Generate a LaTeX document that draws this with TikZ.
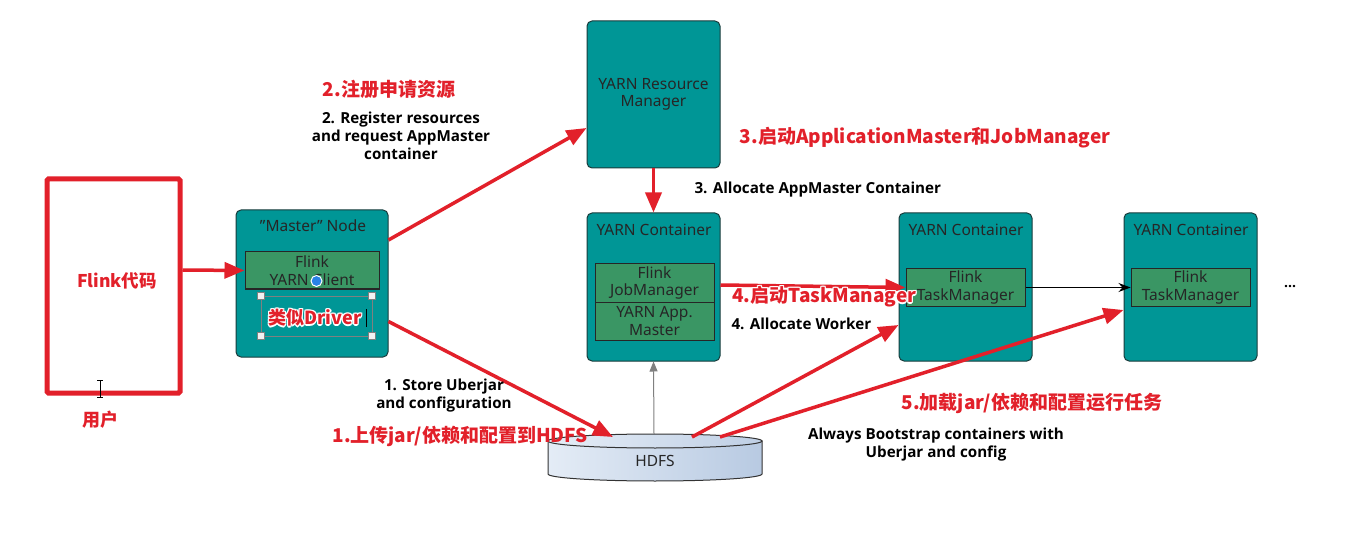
\documentclass[tikz,border=0pt]{standalone}
\usepackage{fontspec}
\setmainfont{Noto Sans}
\newfontfamily\cjk{Noto Sans CJK SC}
\newfontfamily\lblfont{Open Sans}
\usetikzlibrary{arrows.meta,calc}
\definecolor{myred}{RGB}{226,32,42}
\definecolor{tealfill}{RGB}{0,150,150}
\definecolor{tealborder}{RGB}{25,60,60}
\definecolor{greenfill}{RGB}{58,150,100}
\definecolor{hdfsA}{RGB}{228,236,246}
\definecolor{hdfsB}{RGB}{184,202,226}
\definecolor{dotblue}{RGB}{40,130,230}
\tikzset{
  ybox/.style={draw=tealborder, fill=tealfill, rounded corners=5pt, line width=1pt, inner sep=0pt},
  ibox/.style={draw=black!85, fill=greenfill, line width=1pt, inner sep=0pt, align=center,
    font=\fontsize{15.5}{17.5}\selectfont, text=black!85},
  ttl/.style={font=\fontsize{15.5}{17.5}\selectfont, text=black!85, align=center},
  redarrow/.style={draw=myred, line width=3.5pt, -{Triangle[length=20pt,width=16pt]}},
  lbl/.style={font=\lblfont\bfseries\fontsize{15.2}{18}\selectfont, align=center, text=black},
  redlbl/.style={text=myred, font=\cjk\bfseries\fontsize{19}{22}\selectfont, inner sep=0pt},
}
\newcommand{\redtext}[4][]{%
  \foreach \dx/\dy in {1.3/0,-1.3/0,0/1.3,0/-1.3,1/1,-1/1,1/-1,-1/-1}{%
    \node[redlbl,#1,text=white] at ([xshift=\dx pt,yshift=\dy pt]#3) {#4};}
  \node[redlbl,#1] (#2) at (#3) {#4};}
\begin{document}
\begin{tikzpicture}[x=1pt,y=-1pt]
\useasboundingbox (0,0) rectangle (1366,548);
\fill[white] (0,0) rectangle (1366,548);

% user code box
\node[draw=myred, line width=5pt, rounded corners=1.5pt, minimum width=133pt, minimum height=214pt, inner sep=0pt] (flink) at (113.5,286) {};
\node[redlbl, font=\cjk\bfseries\fontsize{17.5}{20}\selectfont] (flinktxt) at (117,281) {Flink代码};
\node[redlbl, font=\cjk\bfseries\fontsize{18}{20}\selectfont] (usertxt) at (100,420) {用户};
% I-beam cursor
\draw[black, line width=0.8pt] (100,380) -- (100,397) (97,380) -- (103,380) (97,397) -- (103,397);

% Master node
\node[ybox, minimum width=152pt, minimum height=147pt] (master) at (312,283.5) {};
\node[ttl] (mastert) at (313,226) {\symbol{34}Master\symbol{34} Node};
\node[ibox, minimum width=134pt, minimum height=37pt] (cl) at (312,270.5) {Flink\\YARN Client};
\node[circle, fill=dotblue, draw=white, line width=1pt, minimum size=11pt, inner sep=0pt] (dot) at (316.5,281) {};
% selection box
\draw[gray, line width=0.8pt] (261,296) rectangle (372,336);
\foreach \hx/\hy in {261/296,372/296,261/336,372/336}{
  \draw[gray, fill=white!90!gray, line width=0.6pt] (\hx-3.5,\hy-3.5) rectangle (\hx+3.5,\hy+3.5);}
\redtext[font=\cjk\bfseries\fontsize{18}{20}\selectfont]{drv}{315,318}{类似Driver}
\draw[black, line width=1.2pt] (366.5,309) -- (366.5,327);

% Resource manager
\node[ybox, minimum width=133pt, minimum height=147pt, ttl] (rm) at (653.5,94.5) {YARN Resource\\Manager};

% Container 1
\node[ybox, minimum width=133pt, minimum height=148pt] (c1) at (653.5,287) {};
\node[ttl] (c1t) at (654,230) {YARN Container};
\node[ibox, minimum width=119pt, minimum height=38pt] (jm) at (654.5,283) {Flink\\JobManager};
\node[ibox, minimum width=119pt, minimum height=38pt] (am) at (654.5,321) {YARN App.\\Master};

% Container 2
\node[ybox, minimum width=133pt, minimum height=148pt] (c2) at (965.5,287) {};
\node[ttl] (c2t) at (966,230) {YARN Container};
\node[ibox, minimum width=119pt, minimum height=38pt] (tm2) at (965.5,287.5) {Flink\\TaskManager};

% Container 3
\node[ybox, minimum width=133pt, minimum height=148pt] (c3) at (1190.5,287) {};
\node[ttl] (c3t) at (1191,230) {YARN Container};
\node[ibox, minimum width=119pt, minimum height=38pt] (tm3) at (1190.5,287.5) {Flink\\TaskManager};

\node[font=\lblfont\bfseries\fontsize{14}{16}\selectfont] (dots) at (1290,287) {...};

% HDFS cylinder
\path[draw=black!80, line width=1pt, left color=hdfsA, right color=hdfsB]
  (548,441) -- (548,474) arc[start angle=180, end angle=360, x radius=107pt, y radius=7pt] -- (762,441) -- cycle;
\path[draw=black!80, line width=1pt, left color=hdfsA!95!white, right color=hdfsB!90!white]
  (655,441) ellipse[x radius=107pt, y radius=7pt];
\node[font=\fontsize{15.5}{17}\selectfont, text=black!85] (hdfs) at (655,461) {HDFS};
\coordinate (h0) at (654,434);
\coordinate (h1) at (613,437);
\coordinate (h2) at (692,437);
\coordinate (h3) at (720,437);

% connectors
\draw[gray, line width=1pt, -{Triangle[length=10pt,width=8pt]}] (h0) -- (c1.south);
\draw[redarrow] ([yshift=16pt]flink.east) -- (cl.west);
\draw[redarrow] ([yshift=43.5pt]master.east) -- ([yshift=-33.5pt]rm.west);
\draw[redarrow] (rm.south) -- (c1.north);
\draw[redarrow] ([yshift=-38pt]master.east) -- (h1);
\draw[redarrow] ([yshift=2pt]c1.east) -- (tm2.west);
\draw[redarrow] (h2) -- ([yshift=-38pt]c2.west);
\draw[redarrow] (h3) -- ([yshift=-23pt]c3.west);
\draw[black, line width=1pt, -{Stealth[length=12pt,width=9pt]}] (tm2.east) -- (tm3.west);

% labels
\node[redlbl] (l2cn) at (389,89) {2.注册申请资源};
\node[lbl] (l2en) at (401,136) {2. Register resources\\and request AppMaster\\container};
\node[redlbl] (l3cn) at (925,138) {3.启动ApplicationMaster和JobManager};
\node[lbl, anchor=west] (l3en) at (691,190) {3. Allocate AppMaster Container};
\redtext[anchor=west]{l4cn}{732,297}{4.启动TaskManager}
\node[lbl, anchor=west] (l4en) at (728,324) {4. Allocate Worker};
\node[lbl] (l1en) at (444,396) {1. Store Uberjar\\and configuration};
\node[redlbl] (l1cn) at (460,436) {1.上传jar/依赖和配置到HDFS};
\node[redlbl] (l5cn) at (1032,403) {5.加载jar/依赖和配置运行任务};
\node[lbl] (l5en) at (936,445) {Always Bootstrap containers with\\Uberjar and config};
\end{tikzpicture}
\end{document}
